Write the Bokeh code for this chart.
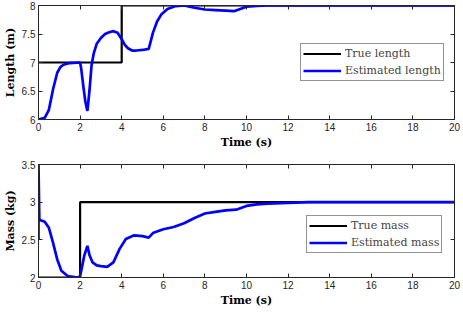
from bokeh.plotting import figure
from bokeh.models import (Range1d, FixedTicker, LinearAxis, Legend, LegendItem,
                          CustomJSTickFormatter)
from bokeh.layouts import column
from bokeh.embed import file_html
from bokeh.resources import INLINE

# ---- data ----
x_ticks = [0, 2, 4, 6, 8, 10, 12, 14, 16, 18, 20]
len_ticks = [6, 6.5, 7, 7.5, 8]
mass_ticks = [2, 2.5, 3, 3.5]

t_len_true = [0, 4, 4, 20]
len_true = [7, 7, 8, 8]

t_len_est = [0, 0.3, 0.5, 0.7, 0.9, 1.05, 1.2, 1.5, 2.0, 2.05,
             2.15, 2.25, 2.35, 2.45, 2.55, 2.65, 2.8, 3.0, 3.2, 3.4,
             3.6, 3.8, 4.0, 4.15, 4.3, 4.5, 4.7, 5.0, 5.3, 5.4,
             5.5, 5.7, 5.9, 6.2, 6.6, 7.0, 7.5, 8.0, 8.5, 9.0,
             9.4, 9.7, 10.0, 10.5, 11.0, 20]
len_est = [6.0, 6.03, 6.17, 6.53, 6.82, 6.92, 6.96, 6.99, 7.0, 6.9,
           6.6, 6.32, 6.15, 6.5, 6.95, 7.15, 7.33, 7.43, 7.5, 7.53,
           7.55, 7.52, 7.41, 7.31, 7.25, 7.21, 7.21, 7.22, 7.24, 7.38,
           7.52, 7.72, 7.84, 7.94, 7.99, 8.0, 7.96, 7.93, 7.92, 7.91,
           7.9, 7.94, 7.98, 7.995, 8.0, 8.0]

t_mass_true = [0, 2, 2, 20]
mass_true = [2, 2, 3, 3]

t_mass_est = [0, 0, 0.04, 0.1, 0.3, 0.5, 0.7, 0.9, 1.1, 1.4,
              1.9, 2.0, 2.1, 2.2, 2.35, 2.45, 2.6, 2.8, 3.0, 3.3,
              3.6, 3.9, 4.2, 4.6, 5.0, 5.3, 5.5, 6.0, 6.5, 7.0,
              7.5, 8.0, 8.5, 9.0, 9.5, 9.8, 10.0, 10.5, 11.0, 12.0,
              13.0, 20]
mass_est = [2.5, 3.5, 2.77, 2.76, 2.74, 2.66, 2.46, 2.24, 2.09, 2.02,
            2.0, 2.02, 2.15, 2.29, 2.42, 2.3, 2.2, 2.16, 2.15, 2.14,
            2.2, 2.38, 2.51, 2.56, 2.55, 2.53, 2.59, 2.64, 2.67, 2.72,
            2.79, 2.85, 2.87, 2.89, 2.9, 2.93, 2.95, 2.97, 2.98, 2.99,
            3.0, 3.0]

AX = "#262626"


def style_axis(ax, ticks, label=None):
    ax.ticker = FixedTicker(ticks=ticks)
    ax.major_tick_in = 4
    ax.major_tick_out = 0
    ax.minor_tick_in = 0
    ax.minor_tick_out = 0
    ax.axis_line_color = AX
    ax.major_tick_line_color = AX
    ax.major_label_text_font = "Liberation Sans"
    ax.major_label_text_font_size = "10px"
    ax.major_label_text_color = AX
    ax.major_label_standoff = 3
    if label is not None:
        ax.axis_label = label
        ax.axis_label_text_font = "DejaVu Serif"
        ax.axis_label_text_font_style = "bold"
        ax.axis_label_text_font_size = "11px"
        ax.axis_label_text_color = "#000000"
        ax.axis_label_standoff = 2


def make(tt, yt, te, ye, yr, yticks, ylabel, labels, loc, top_border, fh):
    p = figure(frame_width=416, frame_height=fh, output_backend="svg",
               toolbar_location=None, x_range=Range1d(0, 20),
               y_range=Range1d(yr[0], yr[1]),
               min_border_top=top_border, min_border_bottom=0,
               min_border_left=0, min_border_right=6)
    p.grid.visible = False
    p.outline_line_color = AX
    style_axis(p.xaxis[0], x_ticks, "Time (s)")
    style_axis(p.yaxis[0], yticks, ylabel)
    for side, ticks in (("above", x_ticks), ("right", yticks)):
        ax = LinearAxis(formatter=CustomJSTickFormatter(code="return ''"))
        style_axis(ax, ticks)
        ax.major_label_standoff = 0
        p.add_layout(ax, side)
    r1 = p.line(tt, yt, line_color="black", line_width=2.2)
    r2 = p.line(te, ye, line_color="#0000ff", line_width=2.7)
    leg = Legend(items=[LegendItem(label=labels[0], renderers=[r1]),
                        LegendItem(label=labels[1], renderers=[r2])],
                 location=loc)
    leg.border_line_color = AX
    leg.border_line_width = 1
    leg.label_text_font = "DejaVu Serif"
    leg.label_text_font_size = "11px"
    leg.glyph_width = 38
    leg.glyph_height = 15
    leg.label_height = 15
    leg.spacing = 2
    leg.padding = 2
    leg.margin = 0
    leg.label_standoff = 4
    p.add_layout(leg)
    return p


p1 = make(t_len_true, len_true, t_len_est, len_est, (6, 8), len_ticks,
          "Length (m)", ("True length", "Estimated length"), (262, 38), 5, 114)
p2 = make(t_mass_true, mass_true, t_mass_est, mass_est, (2, 3.5), mass_ticks,
          "Mass (kg)", ("True mass", "Estimated mass"), (268, 24), 13, 113)

layout = column(p1, p2, spacing=0)
open("out.html", "w").write(file_html(layout, INLINE))
